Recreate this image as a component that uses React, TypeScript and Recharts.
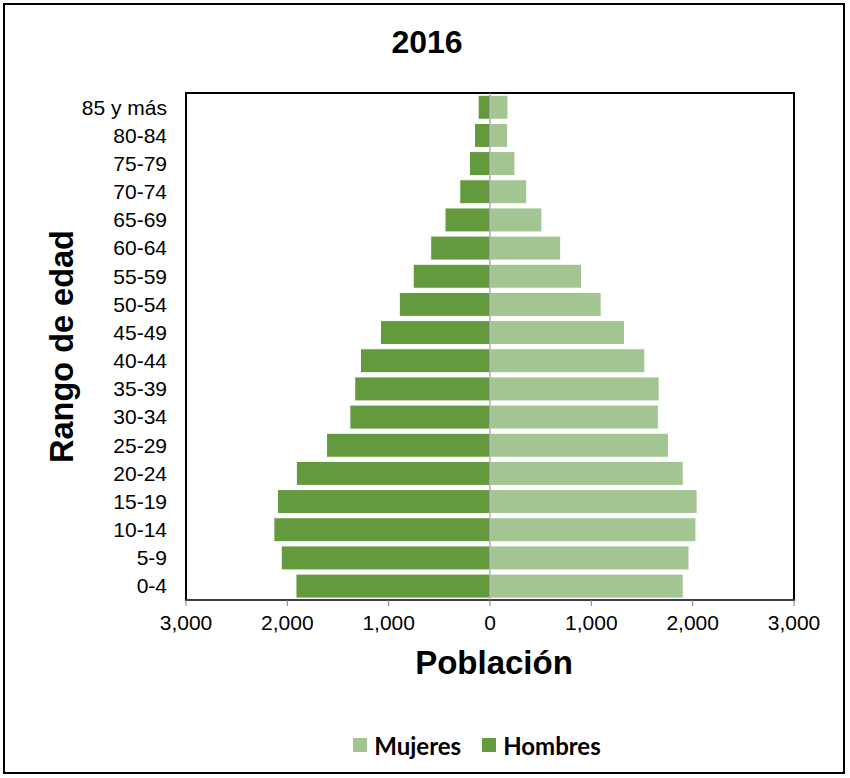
import React from 'react';
import { BarChart, Bar, XAxis, YAxis, Legend, ReferenceLine, ReferenceArea } from 'recharts';

const ageGroups = ['0-4', '5-9', '10-14', '15-19', '20-24', '25-29', '30-34', '35-39', '40-44', '45-49', '50-54', '55-59', '60-64', '65-69', '70-74', '75-79', '80-84', '85 y más'];
const mujeres = [1907, 1964, 2032, 2044, 1907, 1762, 1661, 1669, 1528, 1327, 1097, 903, 698, 512, 363, 246, 173, 177];
const hombres = [1915, 2060, 2133, 2097, 1911, 1613, 1383, 1335, 1278, 1081, 895, 758, 585, 444, 298, 202, 153, 117];
const xTicks = [-3000, -2000, -1000, 0, 1000, 2000, 3000];

const data = ageGroups.map((age, i) => ({ age, Mujeres: mujeres[i], Hombres: -hombres[i] }));

const MUJ = '#a3c591';
const HOM = '#639a3e';
const ARIAL = '"Liberation Sans", Arial, sans-serif';

const fmt = (v: number) => Math.abs(v).toLocaleString('en-US');

const LegendContent = () => (
  <div style={{ display: 'flex', justifyContent: 'center', alignItems: 'center', height: 30, paddingLeft: 160, fontFamily: 'Lato, "Open Sans", sans-serif', fontWeight: 700, fontSize: 24, color: '#000' }}>
    <span style={{ display: 'inline-block', width: 14, height: 14, background: MUJ, marginRight: 7 }} />
    <span style={{ marginRight: 21 }}>Mujeres</span>
    <span style={{ display: 'inline-block', width: 14, height: 14, background: HOM, marginRight: 7 }} />
    <span>Hombres</span>
  </div>
);

export default function App() {
  return (
    <div style={{ position: 'absolute', left: 0, top: 0, width: 850, height: 778, background: '#fff' }}>
      <div style={{ position: 'absolute', left: 3, top: 3, width: 842, height: 771, border: '2px solid #000', boxSizing: 'border-box' }} />
      <div style={{ position: 'absolute', left: 0, top: 22, width: 854, textAlign: 'center', fontFamily: ARIAL, fontWeight: 700, fontSize: 32, lineHeight: '40px', color: '#000' }}>2016</div>
      <BarChart
        width={850}
        height={778}
        data={data}
        layout="vertical"
        stackOffset="sign"
        barCategoryGap="8%"
        margin={{ top: 93, right: 56, bottom: 18, left: 0 }}
      >
        <XAxis
          type="number"
          domain={[-3000, 3000]}
          ticks={xTicks}
          tickFormatter={fmt}
          height={130}
          tickSize={6}
          tickMargin={9}
          stroke="#808080"
          tick={{ fill: '#000', fontSize: 21, fontFamily: ARIAL }}
          label={{
            content: (props: any) => {
              const vb = props.viewBox || {};
              return (
                <text x={vb.x + vb.width / 2 + 4} y={662} textAnchor="middle" dominantBaseline="central" fontFamily={ARIAL} fontWeight={700} fontSize={33} fill="#000">Población</text>
              );
            },
          }}
        />
        <YAxis
          type="category"
          dataKey="age"
          reversed
          width={186}
          tickLine={false}
          axisLine={false}
          tickSize={0}
          tickMargin={19}
          interval={0}
          tick={{ fill: '#000', fontSize: 21, fontFamily: ARIAL }}
          label={{
            content: (props: any) => {
              const vb = props.viewBox || {};
              const cy = vb.y + vb.height / 2;
              return (
                <text x={62} y={cy} transform={`rotate(-90, 62, ${cy})`} textAnchor="middle" dominantBaseline="central" fontFamily={ARIAL} fontWeight={700} fontSize={32.5} fill="#000">Rango de edad</text>
              );
            },
          }}
        />
        <Legend verticalAlign="bottom" align="center" content={<LegendContent />} />
        <Bar dataKey="Mujeres" stackId="p" fill={MUJ} stroke="#ffffff" strokeWidth={1} isAnimationActive={false} />
        <Bar dataKey="Hombres" stackId="p" fill={HOM} stroke="#ffffff" strokeWidth={1} isAnimationActive={false} />
        <ReferenceLine x={0} stroke="#8a8a8a" strokeWidth={1} />
        <ReferenceArea x1={-3000} x2={3000} fill="none" fillOpacity={0} stroke="#000" strokeWidth={2} />
      </BarChart>
    </div>
  );
}
